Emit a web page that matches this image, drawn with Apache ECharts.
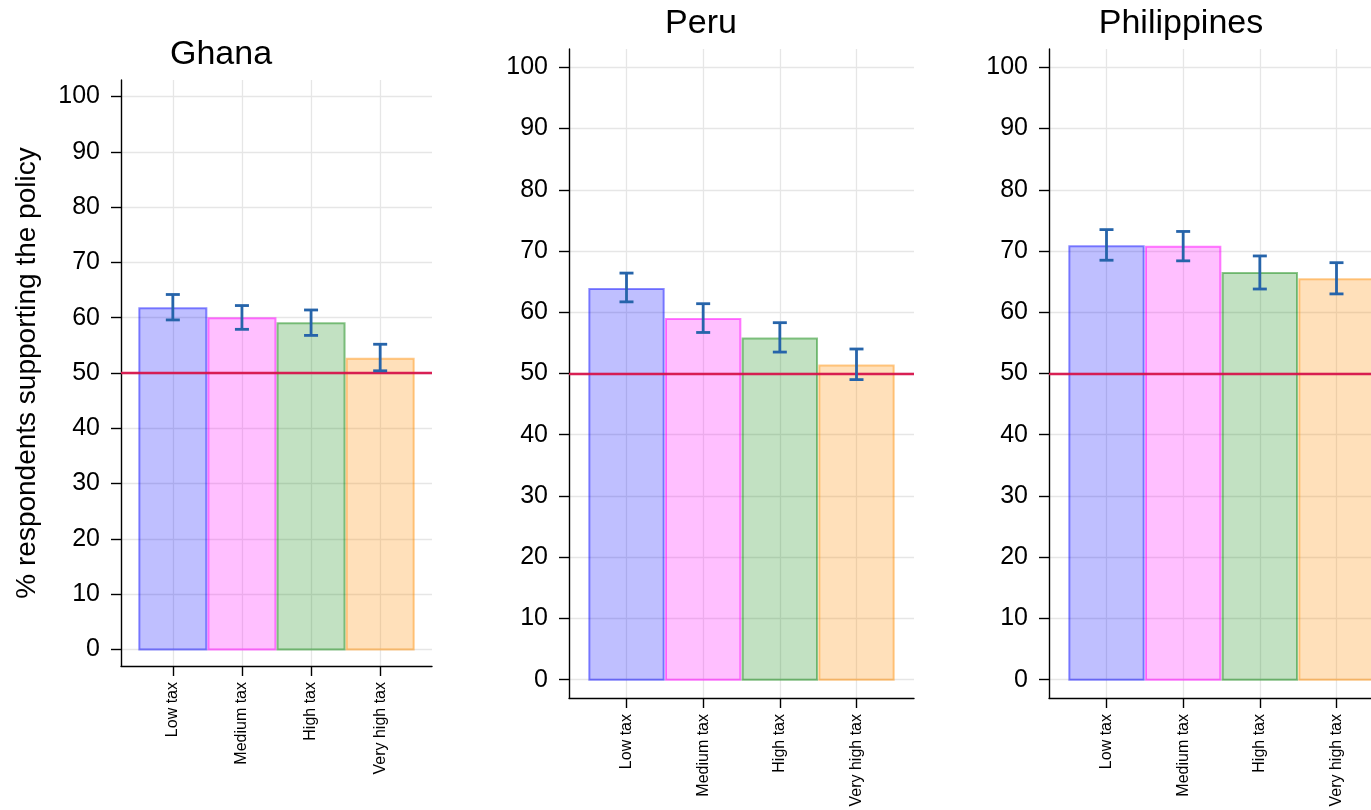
<!DOCTYPE html>
<html>
<head>
<meta charset="utf-8">
<script src="https://cdn.jsdelivr.net/npm/echarts@6/dist/echarts.min.js"></script>
<style>
  html, body { margin: 0; padding: 0; background: #ffffff; }
  #chart { width: 1371px; height: 810px; }
</style>
</head>
<body>
<div id="chart"></div>
<script>
// Survey results: share of respondents supporting the policy, by tax level
const countries = ['Ghana', 'Peru', 'Philippines'];
const taxLevels = ['Low tax', 'Medium tax', 'High tax', 'Very high tax'];
const yTicks = [0, 10, 20, 30, 40, 50, 60, 70, 80, 90, 100];
const yAxisTitle = '% respondents supporting the policy';
const threshold = 50;

// point estimates and 95% confidence bounds
const ghanaSupport = [61.7, 59.9, 59.0, 52.6];
const ghanaLower   = [59.6, 57.9, 56.8, 50.4];
const ghanaUpper   = [64.2, 62.2, 61.4, 55.2];

const peruSupport  = [63.8, 58.9, 55.7, 51.3];
const peruLower    = [61.7, 56.7, 53.5, 49.0];
const peruUpper    = [66.4, 61.4, 58.3, 54.0];

const philSupport  = [70.8, 70.7, 66.4, 65.4];
const philLower    = [68.5, 68.4, 63.8, 63.0];
const philUpper    = [73.5, 73.2, 69.2, 68.1];

const panels = [
  { support: ghanaSupport, lower: ghanaLower, upper: ghanaUpper },
  { support: peruSupport,  lower: peruLower,  upper: peruUpper },
  { support: philSupport,  lower: philLower,  upper: philUpper }
];

// ---- styling ----
const FONT = "'Liberation Sans', Arial, Helvetica, sans-serif";
const FILLS   = ['rgba(0,0,255,0.25)', 'rgba(255,0,255,0.25)', 'rgba(0,128,0,0.24)', 'rgba(255,140,0,0.27)'];
const STROKES = ['rgba(0,0,255,0.45)', 'rgba(255,0,255,0.5)',  'rgba(0,128,0,0.45)', 'rgba(255,140,0,0.45)'];
const ERR_COLOR = '#2664aa';
const RULE_COLOR = '#d7144b';
const GRID_COLOR = '#e6e6e6';
const BAR_HALF = 0.485;
const CAP_HALF = 7;

// the third panel runs past the right edge of the page
const gridBoxes = [
  { left: 121,  top: 80, width: 311, height: 586 },
  { left: 569,  top: 49, width: 345, height: 649 },
  { left: 1049, top: 49, width: 345, height: 649 }
];
const titlePos = [
  { x: 221, y: 55 },
  { x: 701, y: 24 },
  { x: 1181, y: 24 }
];

function renderBar(params, api) {
  const x = api.value(0), v = api.value(1), k = api.value(2);
  const p0 = api.coord([x - BAR_HALF, v]);
  const p1 = api.coord([x + BAR_HALF, 0]);
  return {
    type: 'rect',
    shape: { x: p0[0], y: p0[1], width: p1[0] - p0[0], height: p1[1] - p0[1] },
    style: { fill: FILLS[k], stroke: STROKES[k], lineWidth: 2 }
  };
}

function renderErr(params, api) {
  const x = api.value(0), lo = api.value(1), hi = api.value(2);
  const top = api.coord([x, hi]);
  const bot = api.coord([x, lo]);
  const st = { stroke: ERR_COLOR, lineWidth: 2.8 };
  return {
    type: 'group',
    children: [
      { type: 'line', shape: { x1: top[0], y1: top[1], x2: bot[0], y2: bot[1] }, style: st },
      { type: 'line', shape: { x1: top[0] - CAP_HALF, y1: top[1], x2: top[0] + CAP_HALF, y2: top[1] }, style: st },
      { type: 'line', shape: { x1: bot[0] - CAP_HALF, y1: bot[1], x2: bot[0] + CAP_HALF, y2: bot[1] }, style: st }
    ]
  };
}

const axisLineStyle = { color: '#000', width: 1.4 };
const catTicks = taxLevels.map((_, i) => i + 1);

const grid = gridBoxes.map(b => Object.assign({ containLabel: false, outerBoundsMode: 'none' }, b));
const xAxis = [];
const yAxis = [];
const series = [];

panels.forEach((p, i) => {
  xAxis.push({
    gridIndex: i,
    type: 'value',
    min: 0.25,
    max: 4.75,
    axisLine: { show: true, onZero: false, lineStyle: axisLineStyle },
    axisTick: { show: true, length: 10, customValues: catTicks, lineStyle: axisLineStyle },
    axisLabel: {
      customValues: catTicks,
      formatter: v => taxLevels[Math.round(v) - 1] || '',
      rotate: 90,
      margin: 16,
      fontSize: 16,
      color: '#000',
      fontFamily: FONT
    },
    splitLine: { show: true, lineStyle: { color: GRID_COLOR, width: 1.3 } }
  });
  yAxis.push({
    gridIndex: i,
    type: 'value',
    min: -3,
    max: 103,
    name: i === 0 ? yAxisTitle : '',
    nameLocation: 'middle',
    nameRotate: 90,
    nameGap: 80,
    nameTextStyle: { fontSize: 28, color: '#000', fontFamily: FONT },
    axisLine: { show: true, onZero: false, lineStyle: axisLineStyle },
    axisTick: { show: true, length: 10, customValues: yTicks, lineStyle: axisLineStyle },
    axisLabel: { customValues: yTicks, margin: 21, fontSize: 25, color: '#000', fontFamily: FONT },
    splitLine: { show: true, lineStyle: { color: GRID_COLOR, width: 1.3 } }
  });

  series.push({
    type: 'custom',
    xAxisIndex: i,
    yAxisIndex: i,
    z: 2,
    renderItem: renderBar,
    data: p.support.map((v, k) => [k + 1, v, k]),
    markLine: {
      silent: true,
      symbol: 'none',
      label: { show: false },
      lineStyle: { color: RULE_COLOR, width: 2.4, type: 'solid', opacity: 0.95 },
      data: [{ yAxis: threshold }],
      animation: false
    }
  });
  series.push({
    type: 'custom',
    xAxisIndex: i,
    yAxisIndex: i,
    z: 6,
    renderItem: renderErr,
    data: p.support.map((v, k) => [k + 1, p.lower[k], p.upper[k]])
  });
});

const graphic = countries.map((name, i) => ({
  type: 'text',
  x: titlePos[i].x,
  y: titlePos[i].y,
  style: {
    text: name,
    fill: '#000',
    font: '34px ' + FONT,
    textAlign: 'center',
    textVerticalAlign: 'middle'
  }
}));

const chart = echarts.init(document.getElementById('chart'), null, { renderer: 'canvas' });
chart.setOption({
  animation: false,
  backgroundColor: '#ffffff',
  textStyle: { fontFamily: FONT },
  grid: grid,
  xAxis: xAxis,
  yAxis: yAxis,
  series: series,
  graphic: graphic
});
</script>
</body>
</html>
